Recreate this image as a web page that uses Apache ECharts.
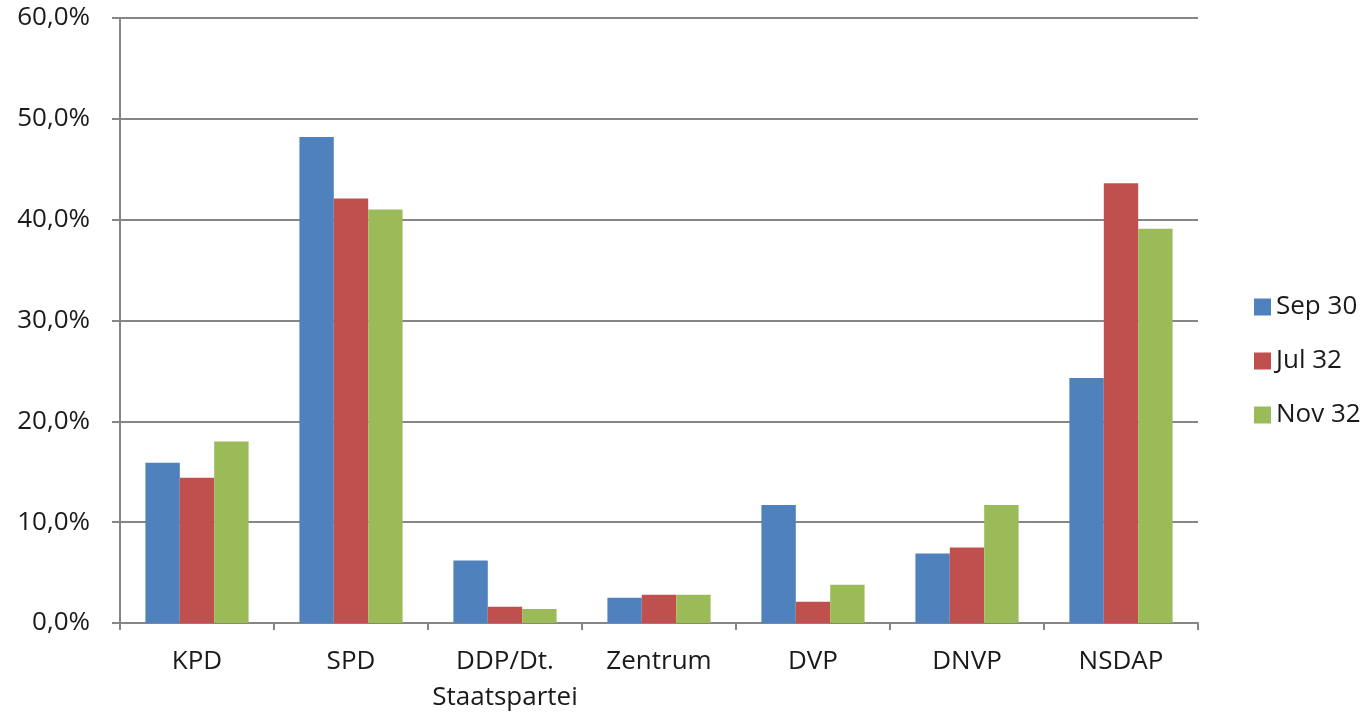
<!DOCTYPE html>
<html>
<head>
<meta charset="utf-8">
<script src="https://cdn.jsdelivr.net/npm/echarts@6/dist/echarts.min.js"></script>
<style>html,body{margin:0;padding:0;background:#fff;}#c{width:1367px;height:714px;}</style>
</head>
<body>
<div id="c"></div>
<script>
const categories = ['KPD', 'SPD', 'DDP/Dt.\nStaatspartei', 'Zentrum', 'DVP', 'DNVP', 'NSDAP'];
const seriesNames = ['Sep 30', 'Jul 32', 'Nov 32'];
const sep30 = [15.9, 48.2, 6.2, 2.5, 11.7, 6.9, 24.3];
const jul32 = [14.4, 42.1, 1.6, 2.8, 2.1, 7.5, 43.6];
const nov32 = [18.0, 41.0, 1.4, 2.8, 3.8, 11.7, 39.1];
const colors = ['#4F81BD', '#C0504D', '#9BBB59'];
const yTicks = { min: 0, max: 60, interval: 10 };

const chart = echarts.init(document.getElementById('c'));
const font = 'Open Sans';
const seriesData = [sep30, jul32, nov32];
chart.setOption({
  animation: false,
  textStyle: { fontFamily: font },
  grid: { left: 120, right: 169, top: 18, bottom: 91, containLabel: false, outerBoundsMode: 'none' },
  legend: {
    orient: 'vertical', left: 1249, top: 289, itemGap: 28,
    itemWidth: 17, itemHeight: 17, icon: 'rect',
    textStyle: { fontSize: 26, color: '#1a1a1a', fontFamily: font },
    data: seriesNames
  },
  xAxis: {
    type: 'category', data: categories,
    axisLine: { lineStyle: { color: '#868686', width: 2 } },
    axisTick: { show: true, alignWithLabel: false, interval: 0, length: 7, lineStyle: { color: '#868686', width: 2 } },
    axisLabel: { fontSize: 26, color: '#1a1a1a', margin: 21, lineHeight: 36, interval: 0, hideOverlap: false, fontFamily: font }
  },
  yAxis: {
    type: 'value', min: yTicks.min, max: yTicks.max, interval: yTicks.interval,
    axisLine: { show: true, lineStyle: { color: '#868686', width: 2 } },
    axisTick: { show: true, length: 8, lineStyle: { color: '#868686', width: 2 } },
    splitLine: { lineStyle: { color: '#868686', width: 2 } },
    axisLabel: { fontSize: 26, color: '#1a1a1a', margin: 30, fontFamily: font,
      formatter: v => v.toFixed(1).replace('.', ',') + '%' }
  },
  series: seriesNames.map((n, i) => ({
    name: n, type: 'bar', data: seriesData[i],
    barGap: '0%', barCategoryGap: '33%',
    itemStyle: { color: colors[i] }
  }))
});
</script>
</body>
</html>
